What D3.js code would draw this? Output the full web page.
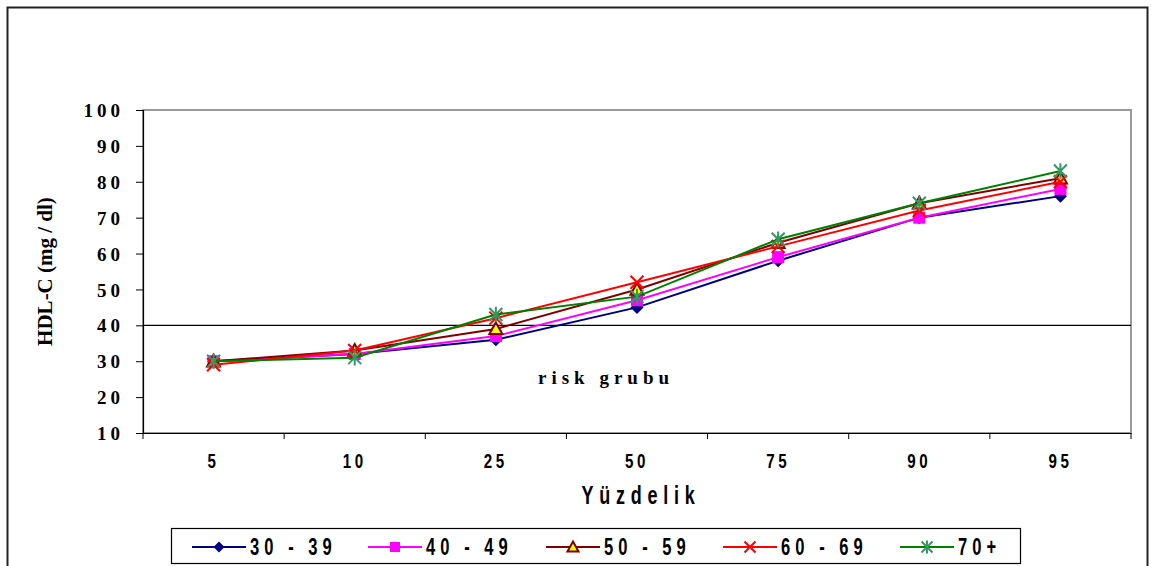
<!DOCTYPE html>
<html>
<head>
<meta charset="utf-8">
<script src="https://cdn.jsdelivr.net/npm/d3@7"></script>
<style>
  body { margin: 0; background: #fff; }
  svg { display: block; }
  .serif { font-family: "Liberation Serif", "Times New Roman", serif; font-weight: bold; }
  .narrow { font-family: "Liberation Sans Narrow", "Arial Narrow", "Liberation Sans", sans-serif; font-weight: bold; }
</style>
</head>
<body>
<div id="chart"></div>
<script>
// data
var categories = ["5", "10", "25", "50", "75", "90", "95"];
var yTicks = [10, 20, 30, 40, 50, 60, 70, 80, 90, 100];
var seriesNames = ["30 - 39", "40 - 49", "50 - 59", "60 - 69", "70+"];
var s30 = [30, 32, 36, 45, 58, 70, 76];
var s40 = [30, 32, 37, 47, 59, 70, 78];
var s50 = [30, 33, 39, 50, 63, 74, 81];
var s60 = [29, 33, 42, 52, 62, 72, 80];
var s70 = [30, 31, 43, 48, 64, 74, 83];
var riskLevel = 40;

var width = 1152, height = 566;
var plot = { left: 143, top: 110, right: 1131, bottom: 433 };
var squeeze = 0.72; // narrow font stand-in

var svg = d3.select("#chart").append("svg")
    .attr("width", width)
    .attr("height", height);

// outer frame
svg.append("rect")
    .attr("x", 7.5).attr("y", 7.5)
    .attr("width", 1140).attr("height", 570)
    .attr("fill", "none")
    .attr("stroke", "#222")
    .attr("stroke-width", 2);

var x = d3.scaleBand().domain(categories).range([plot.left, plot.right]);
var y = d3.scaleLinear().domain([10, 100]).range([plot.bottom, plot.top]);

// plot area border (grey)
svg.append("rect")
    .attr("x", plot.left).attr("y", plot.top)
    .attr("width", plot.right - plot.left).attr("height", plot.bottom - plot.top)
    .attr("fill", "none")
    .attr("stroke", "#999")
    .attr("stroke-width", 2);

// y axis
var yAxis = svg.append("g")
    .attr("transform", `translate(${plot.left},0)`)
    .call(d3.axisLeft(y).tickValues(yTicks).tickSize(7).tickPadding(12));
yAxis.select(".domain").attr("stroke", "#000").attr("stroke-width", 1.2);
yAxis.selectAll(".tick line").attr("stroke", "#000");
yAxis.selectAll("text")
    .attr("class", "serif")
    .style("font-size", "19px")
    .style("letter-spacing", "4px")
    .attr("dy", "0.35em")
    .attr("fill", "#000");

// x axis
var xAxis = svg.append("g")
    .attr("transform", `translate(0,${plot.bottom})`)
    .call(d3.axisBottom(x).tickSize(0).tickPadding(20));
xAxis.select(".domain").attr("stroke", "#000").attr("stroke-width", 1.2);
xAxis.selectAll("text")
    .attr("class", "narrow")
    .attr("transform", `scale(${squeeze},1)`)
    .style("font-size", "21px")
    .style("letter-spacing", "5px")
    .attr("fill", "#000");
// boundary ticks between categories
xAxis.selectAll(".bound")
    .data(d3.range(categories.length + 1))
    .enter().append("line")
    .attr("x1", function(i) { return plot.left + i * x.step(); })
    .attr("x2", function(i) { return plot.left + i * x.step(); })
    .attr("y1", 0).attr("y2", 6)
    .attr("stroke", "#000");

// risk line at 40
svg.append("line")
    .attr("x1", plot.left).attr("x2", plot.right)
    .attr("y1", y(riskLevel)).attr("y2", y(riskLevel))
    .attr("stroke", "#000")
    .attr("stroke-width", 1.2);

svg.append("text")
    .attr("class", "serif")
    .attr("x", 606).attr("y", 384)
    .attr("text-anchor", "middle")
    .style("font-size", "19px")
    .style("letter-spacing", "5px")
    .text("risk grubu");

// axis titles
svg.append("text")
    .attr("class", "serif")
    .attr("transform", `translate(52,${(plot.top + plot.bottom) / 2}) rotate(-90)`)
    .attr("text-anchor", "middle")
    .style("font-size", "21px")
    .text("HDL-C (mg / dl)");

svg.append("g")
    .attr("transform", `translate(${(plot.left + plot.right) / 2 + 4},504) scale(${squeeze},1)`)
  .append("text")
    .attr("class", "narrow")
    .attr("text-anchor", "middle")
    .style("font-size", "25px")
    .style("letter-spacing", "8px")
    .text("Yüzdelik");

// series
var series = [
  { name: seriesNames[0], values: s30, line: "#000080", shape: "diamond", fill: "#000080", stroke: "#000080" },
  { name: seriesNames[1], values: s40, line: "#FF00FF", shape: "square", fill: "#FF00FF", stroke: "#FF00FF" },
  { name: seriesNames[2], values: s50, line: "#800000", shape: "triangle", fill: "#FFFF00", stroke: "#800000" },
  { name: seriesNames[3], values: s60, line: "#FF0000", shape: "x", fill: "none", stroke: "#FF0000" },
  { name: seriesNames[4], values: s70, line: "#008000", shape: "star", fill: "none", stroke: "#339966" }
];

function drawMarker(g, shape, fill, stroke, s) {
  if (shape === "diamond") {
    g.append("path").attr("d", `M0,${-s}L${s},0L0,${s}L${-s},0Z`).attr("fill", fill);
  } else if (shape === "square") {
    g.append("rect").attr("x", -s + 0.5).attr("y", -s + 0.5).attr("width", 2 * s - 1).attr("height", 2 * s - 1).attr("fill", fill);
  } else if (shape === "triangle") {
    g.append("path").attr("d", `M0,${-s}L${s},${s * 0.8}L${-s},${s * 0.8}Z`)
      .attr("fill", fill).attr("stroke", stroke).attr("stroke-width", 2);
  } else if (shape === "x") {
    g.append("path").attr("d", `M${-s},${-s}L${s},${s}M${-s},${s}L${s},${-s}`)
      .attr("stroke", stroke).attr("stroke-width", 2);
  } else if (shape === "star") {
    g.append("path").attr("d", `M${-s},${-s}L${s},${s}M${-s},${s}L${s},${-s}M0,${-s * 1.2}L0,${s * 1.2}`)
      .attr("stroke", stroke).attr("stroke-width", 2);
  }
}

var line = d3.line()
    .x(function(d, i) { return x(categories[i]) + x.bandwidth() / 2; })
    .y(function(d) { return y(d); });

series.forEach(function(s) {
  svg.append("path")
      .datum(s.values)
      .attr("d", line)
      .attr("fill", "none")
      .attr("stroke", s.line)
      .attr("stroke-width", 2);
  s.values.forEach(function(v, i) {
    var g = svg.append("g")
        .attr("transform", `translate(${x(categories[i]) + x.bandwidth() / 2},${y(v)})`);
    drawMarker(g, s.shape, s.fill, s.stroke, 6.5);
  });
});

// legend
var legend = svg.append("g");
legend.append("rect")
    .attr("x", 171.5).attr("y", 528.5)
    .attr("width", 849).attr("height", 35)
    .attr("fill", "#fff")
    .attr("stroke", "#000")
    .attr("stroke-width", 1.2);

var legendX = [192, 368, 546, 723, 900];
series.forEach(function(s, i) {
  var g = legend.append("g").attr("transform", `translate(${legendX[i]},547)`);
  g.append("line").attr("x1", 0).attr("x2", 54).attr("y1", 0).attr("y2", 0)
      .attr("stroke", s.line).attr("stroke-width", 2);
  var m = g.append("g").attr("transform", "translate(27,0)");
  drawMarker(m, s.shape, s.fill, s.stroke, 5.5);
  g.append("g")
      .attr("transform", `translate(58,8) scale(${squeeze},1)`)
    .append("text")
      .attr("class", "narrow")
      .style("font-size", "23px")
      .style("letter-spacing", "7px")
      .text(s.name);
});
</script>
</body>
</html>
